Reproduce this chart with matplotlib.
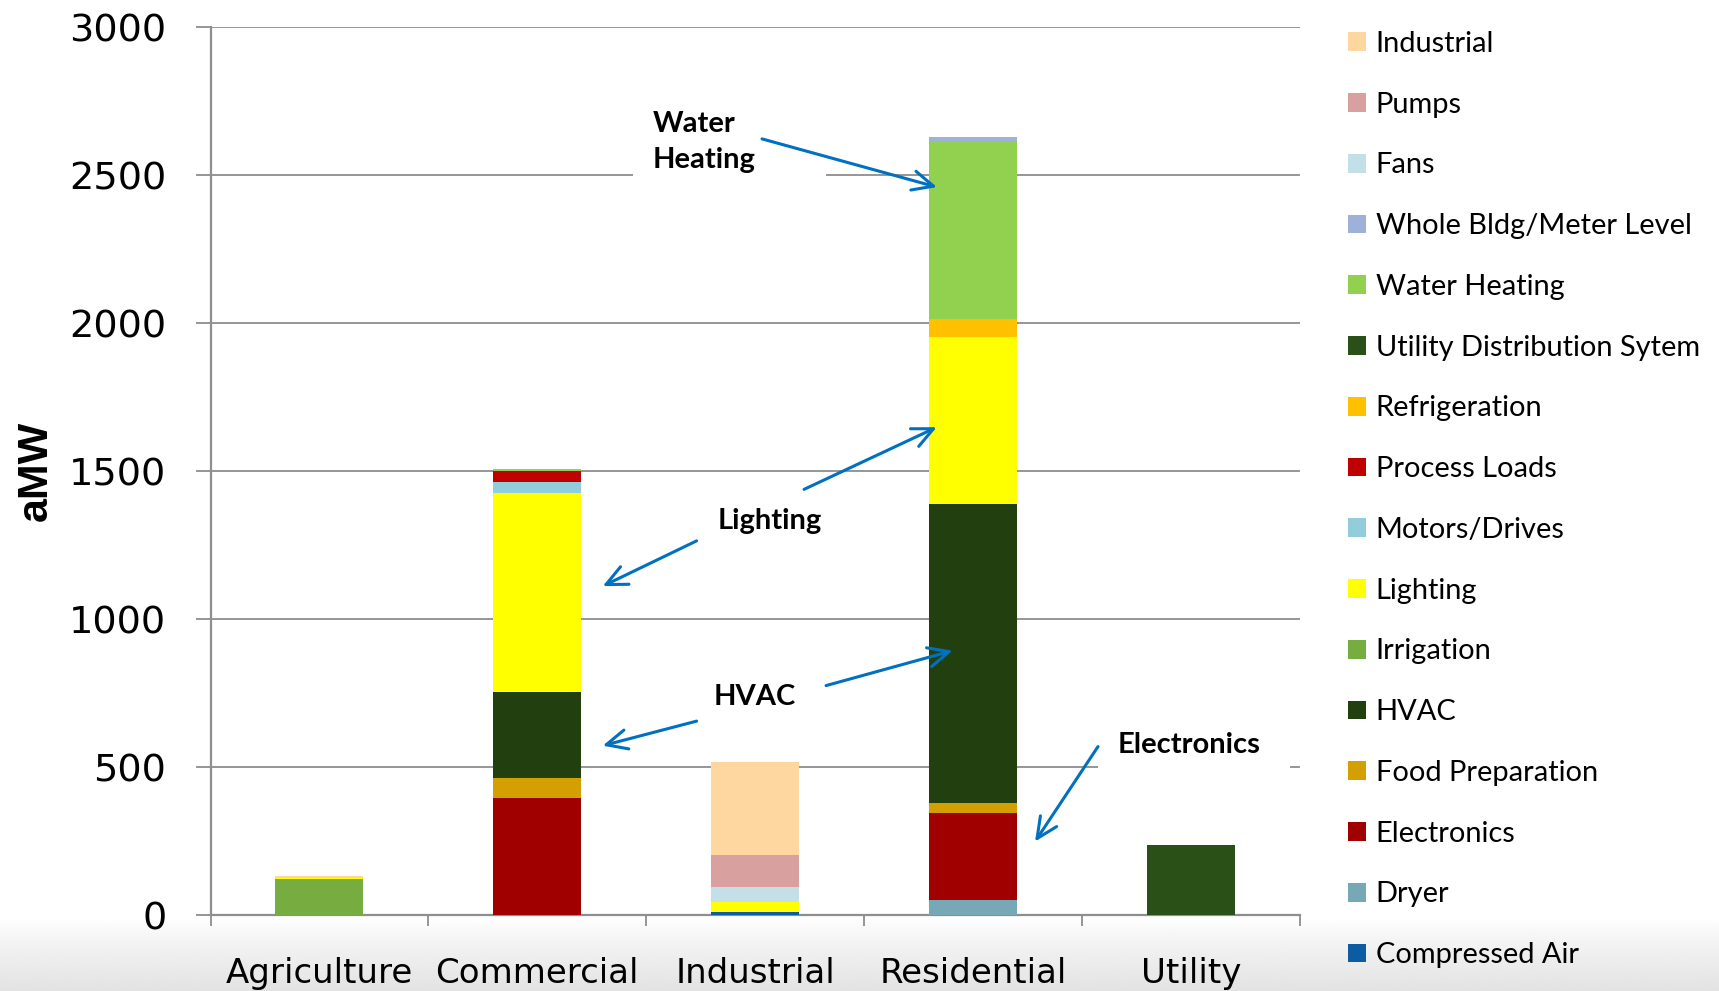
import numpy as np
import matplotlib
matplotlib.use("Agg")
import matplotlib.pyplot as plt
from matplotlib.patches import Rectangle, Patch

# ---- data (aMW) ----
sectors = ["Agriculture", "Commercial", "Industrial", "Residential", "Utility"]

end_uses = [
    "Compressed Air", "Dryer", "Electronics", "Food Preparation", "HVAC",
    "Irrigation", "Lighting", "Motors/Drives", "Process Loads", "Refrigeration",
    "Utility Distribution Sytem", "Water Heating", "Whole Bldg/Meter Level",
    "Fans", "Pumps", "Industrial",
]

compressed_air = [0, 0, 10, 0, 0]
dryer          = [0, 0, 0, 51, 0]
electronics    = [0, 394, 0, 295, 0]
food_prep      = [0, 68, 0, 34, 0]
hvac           = [0, 293, 0, 1008, 0]
irrigation     = [122, 0, 0, 0, 0]
lighting       = [4, 670, 34, 565, 0]
motors_drives  = [0, 38, 0, 0, 0]
process_loads  = [0, 38, 0, 0, 0]
refrigeration  = [0, 0, 0, 59, 0]
utility_dist   = [0, 0, 0, 0, 237]
water_heating  = [0, 5, 0, 603, 0]
whole_bldg     = [0, 0, 0, 13, 0]
fans           = [0, 0, 51, 0, 0]
pumps          = [0, 0, 108, 0, 0]
industrial     = [5, 0, 315, 0, 0]

series = [compressed_air, dryer, electronics, food_prep, hvac, irrigation,
          lighting, motors_drives, process_loads, refrigeration, utility_dist,
          water_heating, whole_bldg, fans, pumps, industrial]

colors = ["#0B5CA0", "#77A8B5", "#A00000", "#D49F00", "#22400F", "#77AC41",
          "#FFFF00", "#92CDDC", "#C00000", "#FFC000", "#2A4F17",
          "#92D050", "#9FB1D8", "#C3DFE8", "#D8A09E", "#FDD6A0"]

y_ticks = [0, 500, 1000, 1500, 2000, 2500, 3000]

# ---- figure ----
W, H = 1719, 991
fig = plt.figure(figsize=(W / 100, H / 100), dpi=100, facecolor="white")

# soft grey fade along the bottom edge
bg = fig.add_axes([0, 0, 1, 1], zorder=-10)
bg.set_xlim(0, W)
bg.set_ylim(H, 0)
bg.axis("off")
grad = np.linspace(0, 1, 200) ** 0.8
shade = 1 - grad * (1 - 0xE3 / 255)
img = np.repeat(shade[:, None], 2, axis=1)
bg.imshow(img, cmap="gray", vmin=0, vmax=1, extent=(0, W, H, 918), aspect="auto")

ax_left, ax_right, ax_top, ax_bot = 210.5, 1300, 27, 915
ax = fig.add_axes([ax_left / W, 1 - ax_bot / H, (ax_right - ax_left) / W,
                   (ax_bot - ax_top) / H])
ax.set_facecolor("none")

x = np.arange(len(sectors))
bottom = np.zeros(len(sectors))
for vals, col in zip(series, colors):
    ax.bar(x, vals, width=0.404, bottom=bottom, color=col, linewidth=0, zorder=3)
    bottom += np.array(vals)

ax.set_xlim(-0.5, len(sectors) - 0.5)
ax.set_ylim(0, 3000)

grid_col = "#8E8E8E"
ax.set_yticks(y_ticks)
ax.set_yticklabels([str(v) for v in y_ticks], fontsize=27.5, family="DejaVu Sans")
ax.yaxis.grid(True, color=grid_col, linewidth=1.3, zorder=0)
ax.tick_params(axis="y", length=10.8, width=1.3, color=grid_col, pad=21)

ax.set_xticks(np.arange(-0.5, len(sectors)), minor=False)
ax.set_xticklabels([""] * (len(sectors) + 1))
ax.set_xticks(x, minor=True)
ax.set_xticklabels(sectors, minor=True, fontsize=24.5, family="DejaVu Sans")
ax.tick_params(axis="x", which="major", length=8, width=1.3, color=grid_col)
ax.tick_params(axis="x", which="minor", length=0, pad=30)

for side in ("top", "right"):
    ax.spines[side].set_visible(False)
for side in ("left", "bottom"):
    ax.spines[side].set_color(grid_col)
    ax.spines[side].set_linewidth(1.6)

ax.set_ylabel("aMW", fontsize=31, fontweight="bold", family="Liberation Sans",
              va="center", rotation_mode="anchor")
ax.yaxis.set_label_coords(-0.160, 0.5)

# ---- callouts ----
arrow_col = "#0070C0"
ann_font = dict(fontsize=21, fontweight="bold", family="Lato", color="black", zorder=6)
arrow_kw = dict(arrowstyle="->,head_length=0.75,head_width=0.35",
                color=arrow_col, lw=2.2, shrinkA=0, shrinkB=0, mutation_scale=20)

# white boxes behind labels that sit on a gridline
ax.add_patch(Rectangle((1.439, 2380), 0.886, 330, facecolor="white",
                       edgecolor="none", zorder=4))
ax.add_patch(Rectangle((3.573, 450), 0.881, 160, facecolor="white",
                       edgecolor="none", zorder=4))

ax.text(1.531, 2612, "Water\nHeating", ha="left", va="center",
        linespacing=1.5, **ann_font)
ax.text(2.068, 1331, "Lighting", ha="center", va="center", **ann_font)
ax.text(1.997, 736, "HVAC", ha="center", va="center", **ann_font)
ax.text(3.991, 574, "Electronics", ha="center", va="center", **ann_font)

arrows = [
    ((2.031, 2622), (2.834, 2459)),
    ((1.731, 1264), (1.300, 1111)),
    ((2.224, 1438), (2.833, 1648)),
    ((1.731, 655), (1.300, 572)),
    ((2.325, 775), (2.906, 893)),
    ((3.573, 569), (3.284, 248)),
]
for start, end in arrows:
    ax.annotate("", xy=end, xytext=start, xycoords="data", textcoords="data",
                arrowprops=arrow_kw, zorder=7)

# ---- legend (top entry = top of stack) ----
handles = [Patch(facecolor=c, edgecolor="none", label=l)
           for l, c in zip(end_uses, colors)][::-1]
leg = ax.legend(handles=handles, loc="upper left",
                bbox_to_anchor=(1348 / W, 1 - 31 / H),
                bbox_transform=fig.transFigure, frameon=False,
                prop=dict(family="Lato", size=20.9),
                handlelength=0.62, handleheight=0.62, handletextpad=0.33,
                labelspacing=1.197, borderaxespad=0, borderpad=0)

fig.savefig("out.png", dpi=100, facecolor="white")
